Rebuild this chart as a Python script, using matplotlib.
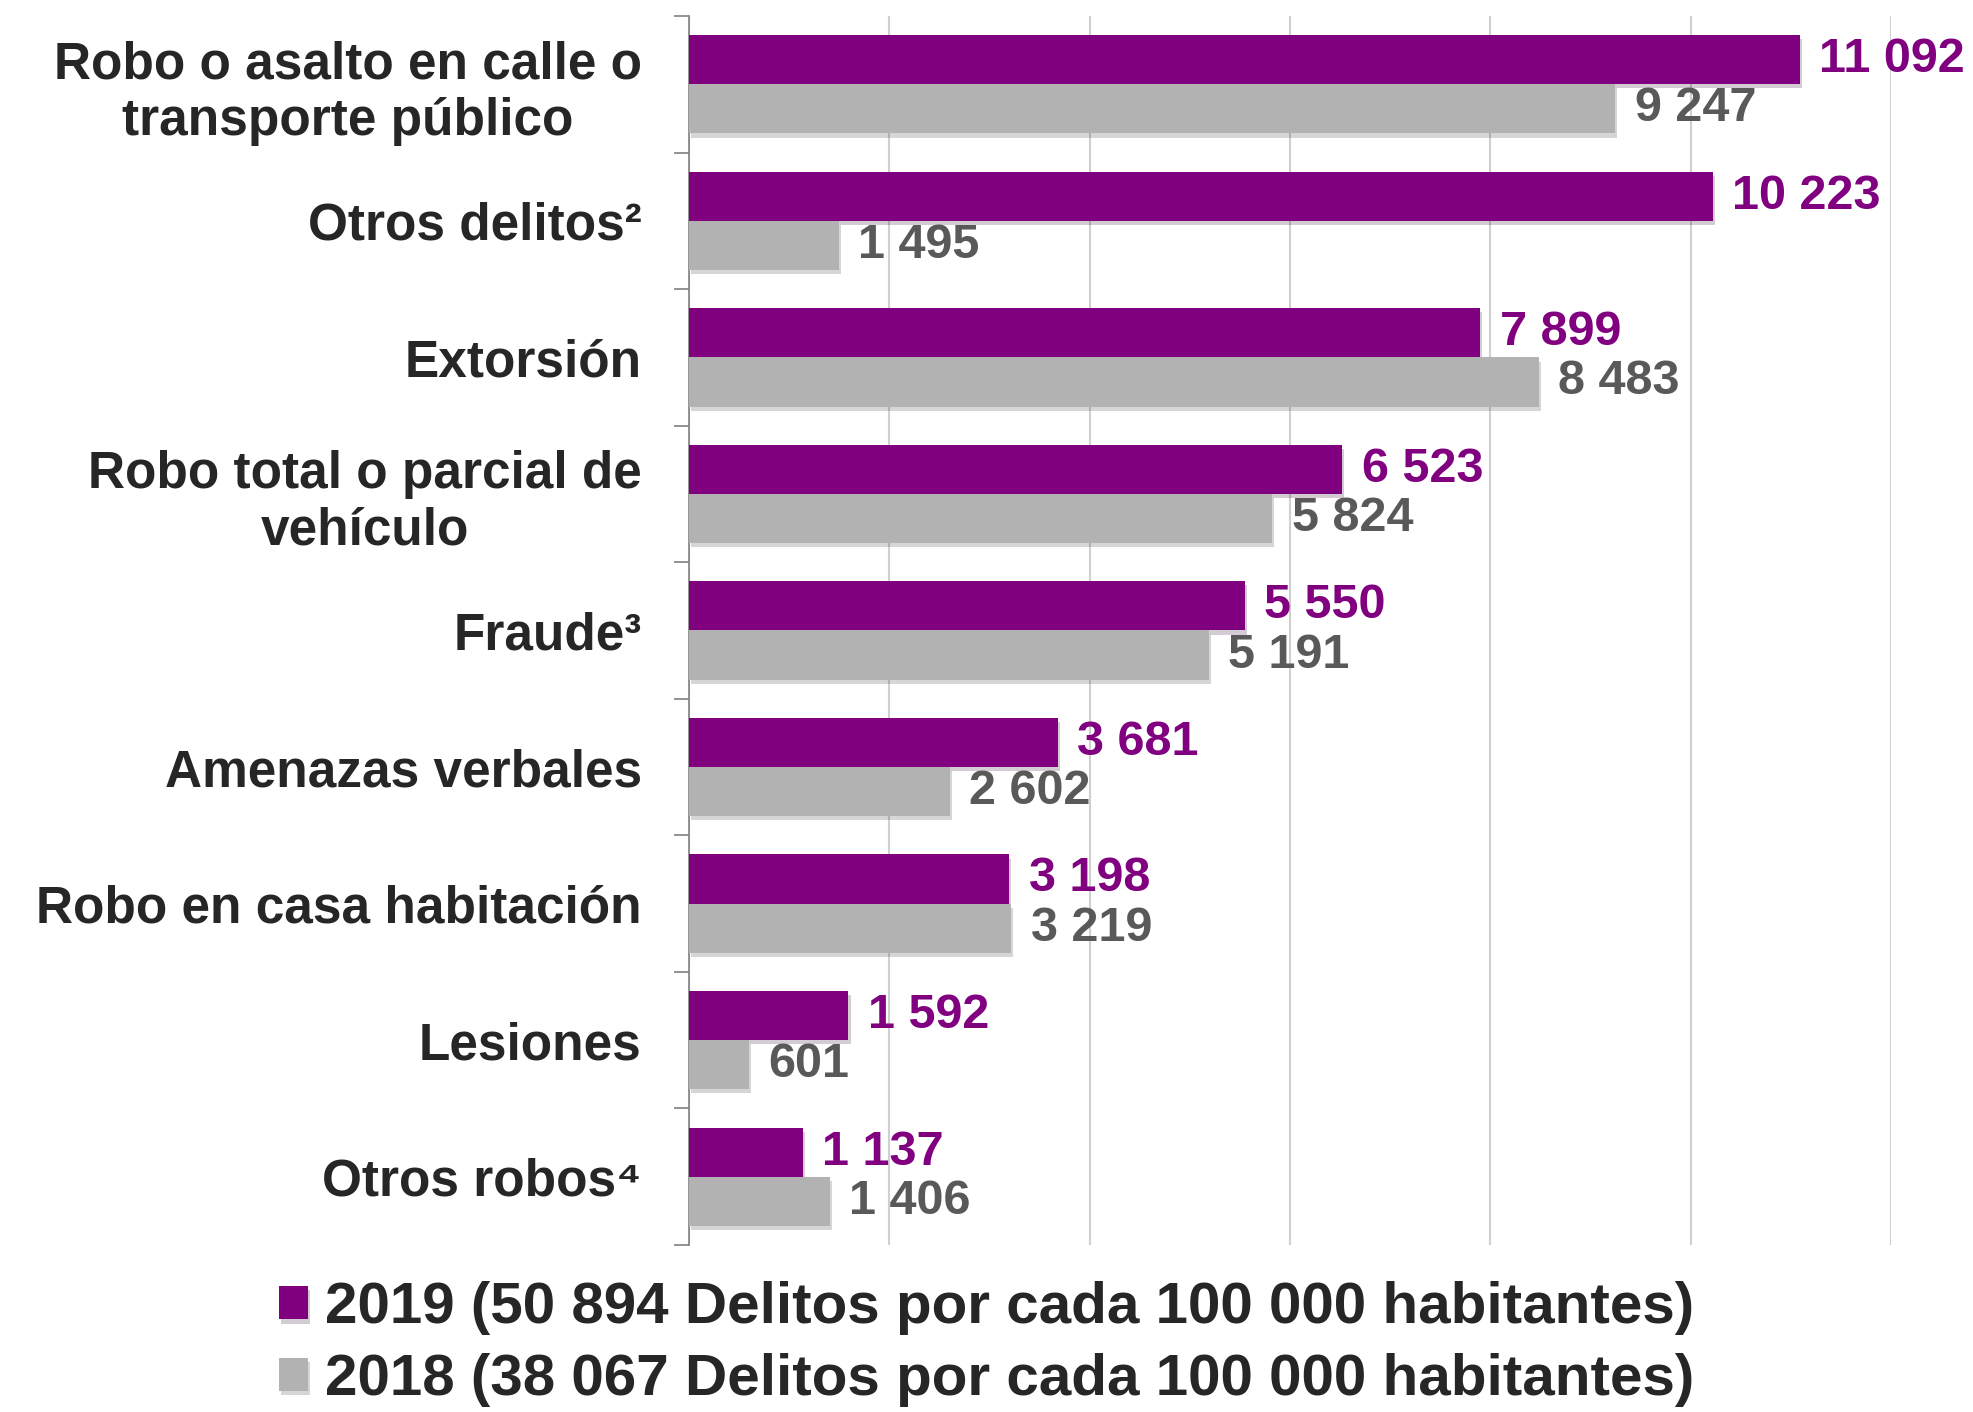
import matplotlib as mpl
mpl.use("Agg")
import matplotlib.pyplot as plt
import matplotlib.patheffects as pe
import numpy as np

# data
categories = [
    "Robo o asalto en calle o\ntransporte público",
    "Otros delitos²",
    "Extorsión",
    "Robo total o parcial de\nvehículo",
    "Fraude³",
    "Amenazas verbales",
    "Robo en casa habitación",
    "Lesiones",
    "Otros robos⁴",
]
values_2019 = [11092, 10223, 7899, 6523, 5550, 3681, 3198, 1592, 1137]
values_2018 = [9247, 1495, 8483, 5824, 5191, 2602, 3219, 601, 1406]
legend_labels = [
    "2019 (50 894 Delitos por cada 100 000 habitantes)",
    "2018 (38 067 Delitos por cada 100 000 habitantes)",
]

purple = "#800080"
grey = "#B2B2B2"
text_dark = "#262626"
fonts = ["Liberation Sans", "DejaVu Sans"]

plt.rcParams["font.family"] = fonts
plt.rcParams["font.weight"] = "bold"


def fmt(v):
    return "{:,}".format(v).replace(",", " ")


fig = plt.figure(figsize=(19.73, 14.12), dpi=100)
ax = fig.add_axes([0.3492, 0.1183, 0.6092, 0.8704])

y = np.arange(len(categories))
h = 0.36
shadow = [pe.SimplePatchShadow(offset=(1.5, -3), alpha=0.2), pe.Normal()]
b19 = ax.barh(y - h / 2, values_2019, height=h, color=purple, label=legend_labels[0],
              zorder=3)
b18 = ax.barh(y + h / 2, values_2018, height=h, color=grey, label=legend_labels[1],
              zorder=3)
for bar in list(b19) + list(b18):
    bar.set_path_effects(shadow)

ax.bar_label(b19, labels=[fmt(v) for v in values_2019], padding=14,
             color=purple, fontsize=35, fontweight="bold")
ax.bar_label(b18, labels=[fmt(v) for v in values_2018], padding=14,
             color="#595959", fontsize=35, fontweight="bold")

ax.set_xlim(0, 12000)
ax.set_ylim(len(categories) - 0.5, -0.5)
ax.set_xticks(np.arange(0, 12001, 2000))
ax.set_xticklabels([])
ax.tick_params(axis="x", length=0)
ax.grid(axis="x", color="#D0D0D0", linewidth=1.5, zorder=0)

ax.set_yticks(y)
ax.set_yticklabels(categories, fontsize=37, color=text_dark, fontweight="bold",
                   linespacing=1.18)
for t in ax.get_yticklabels():
    t.set_multialignment("center")
ax.tick_params(axis="y", which="major", length=0, pad=34)
ax.set_yticks(np.arange(-0.5, len(categories), 1), minor=True)
ax.tick_params(axis="y", which="minor", length=11, width=1.2, color="#808080")

for s in ["top", "right", "bottom"]:
    ax.spines[s].set_visible(False)
ax.spines["left"].set_color("#808080")
ax.spines["left"].set_linewidth(1.2)

fig.legend(handles=[b19, b18], labels=legend_labels, loc="center",
           bbox_to_anchor=(0.5, 0.048), ncol=1, frameon=False,
           prop={"size": 42, "weight": "bold"}, labelcolor=text_dark,
           handlelength=0.5, handleheight=0.5, handletextpad=0.3,
           labelspacing=0.3, borderaxespad=0)

fig.savefig("out.png", dpi=100)
